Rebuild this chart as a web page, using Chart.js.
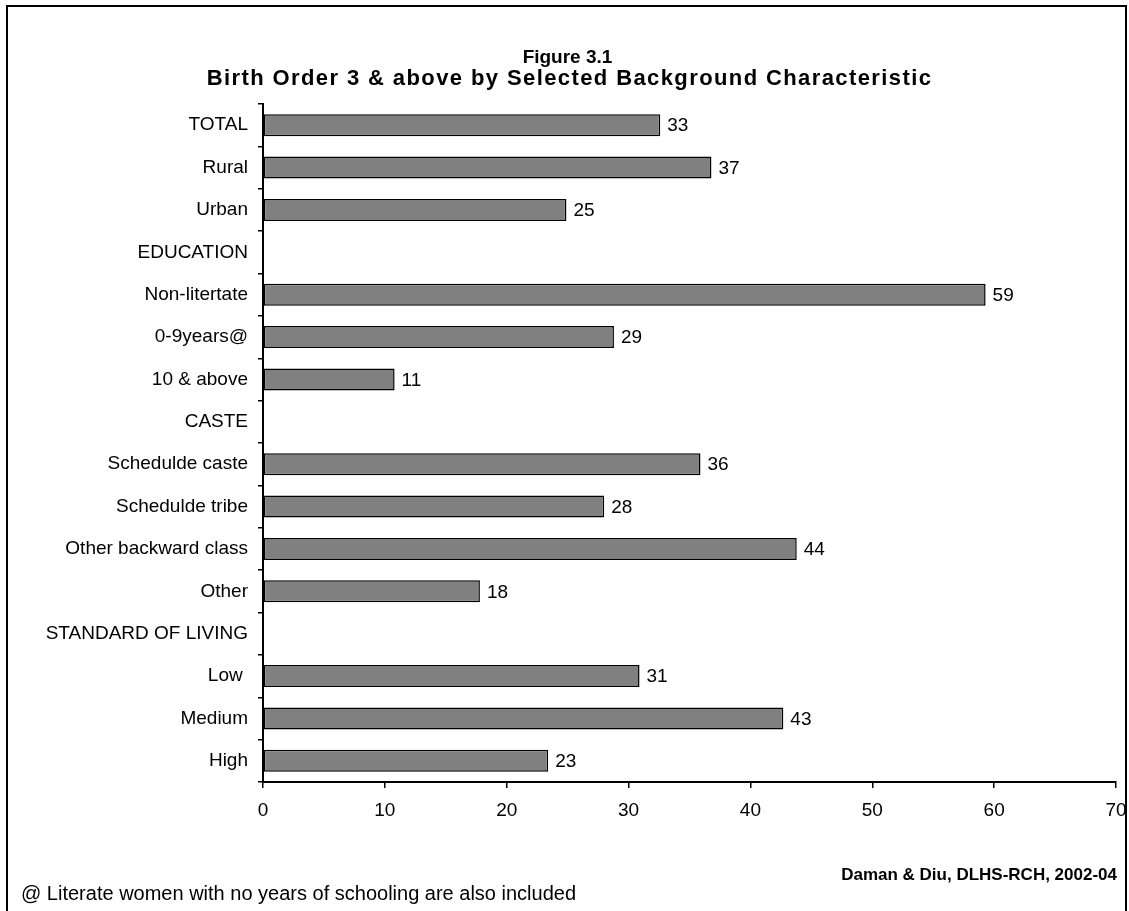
<!DOCTYPE html>
<html>
<head>
<meta charset="utf-8">
<title>Figure 3.1 – Birth Order 3 & above</title>
<script src="https://cdn.jsdelivr.net/npm/chart.js@4/dist/chart.umd.min.js"></script>
<style>
  html, body { margin: 0; padding: 0; background: #fff; }
  #wrap {
    position: relative; width: 1129px; height: 911px; overflow: hidden;
    font-family: "Liberation Sans", Arial, sans-serif; color: #000;
  }
  #frame {
    position: absolute; left: 6px; top: 5px; width: 1121px; height: 930px;
    border: 2px solid #000; box-sizing: border-box;
  }
  #chart { position: absolute; left: 0; top: 0; }
  .line { position: absolute; white-space: pre; line-height: 1; }
  .title { left: 0; width: 1129px; text-align: center; font-weight: bold; }
  #t1 { top: 47px; left: 3px; font-size: 19px; }
  #t2 { top: 67px; left: 5px; font-size: 22px; letter-spacing: 1.4px; }
  #note { left: 21px; top: 883px; font-size: 20px; }
  #source { right: 12px; top: 866px; font-size: 17px; font-weight: bold; }
</style>
</head>
<body>
<div id="wrap">
  <div id="frame"></div>
  <canvas id="chart" width="1129" height="911"></canvas>
  <div class="line title" id="t1">Figure 3.1</div>
  <div class="line title" id="t2">Birth Order 3 &amp; above by Selected Background Characteristic</div>
  <div class="line" id="note">@ Literate women with no years of schooling are also included</div>
  <div class="line" id="source">Daman &amp; Diu, DLHS-RCH, 2002-04</div>
</div>
<script>
// Row labels, top to bottom (group headings carry no bar)
const categories = [
  'TOTAL', 'Rural', 'Urban',
  'EDUCATION', 'Non-litertate', '0-9years@', '10 & above',
  'CASTE', 'Schedulde caste', 'Schedulde tribe', 'Other backward class', 'Other',
  'STANDARD OF LIVING', 'Low ', 'Medium', 'High'
];

// Percentage of births of order 3 and above
const percentBirthOrder3Plus = [
  32.6, 36.8, 24.9,
  null, 59.3, 28.8, 10.8,
  null, 35.9, 28.0, 43.8, 17.8,
  null, 30.9, 42.7, 23.4
];

// Value axis ticks
const xTicks = [0, 10, 20, 30, 40, 50, 60, 70];

const FONT = '"Liberation Sans", Arial, sans-serif';

// Writes each bar's rounded value just past its end
const valueLabels = {
  id: 'valueLabels',
  afterDatasetsDraw(chart) {
    const ctx = chart.ctx;
    const meta = chart.getDatasetMeta(0);
    ctx.save();
    ctx.font = '19px ' + FONT;
    ctx.fillStyle = '#000';
    ctx.textAlign = 'left';
    ctx.textBaseline = 'middle';
    meta.data.forEach((bar, i) => {
      const v = percentBirthOrder3Plus[i];
      if (v === null || v === undefined) return;
      ctx.fillText(String(Math.round(v)), bar.x + 7, bar.y + 1);
    });
    ctx.restore();
  }
};

new Chart(document.getElementById('chart'), {
  type: 'bar',
  data: {
    labels: categories,
    datasets: [{
      data: percentBirthOrder3Plus,
      backgroundColor: '#808080',
      borderColor: '#000',
      borderWidth: 1.5,
      borderSkipped: false,
      barPercentage: 0.52,
      categoryPercentage: 1
    }]
  },
  options: {
    indexAxis: 'y',
    responsive: false,
    devicePixelRatio: 1,
    animation: false,
    layout: { padding: { left: 0, right: 13, top: 104, bottom: 79 } },
    plugins: {
      legend: { display: false },
      title: { display: false },
      tooltip: { enabled: false }
    },
    scales: {
      x: {
        type: 'linear',
        min: xTicks[0],
        max: xTicks[xTicks.length - 1],
        afterBuildTicks(scale) { scale.ticks = xTicks.map(v => ({ value: v })); },
        afterFit(scale) {
          scale.height = 50;
          scale.paddingLeft = 0;
          scale.paddingRight = 0;
        },
        grid: { drawOnChartArea: false, drawTicks: true, tickLength: 6, color: '#000', lineWidth: 1.5 },
        border: { display: true, color: '#000', width: 2 },
        ticks: { color: '#000', font: { family: FONT, size: 19 }, padding: 11 }
      },
      y: {
        type: 'category',
        offset: true,
        afterFit(scale) {
          scale.width = 263;
          scale.paddingTop = 0;
          scale.paddingBottom = 0;
        },
        grid: { offset: true, drawOnChartArea: false, drawTicks: true, tickLength: 5, color: '#000', lineWidth: 1.5 },
        border: { display: true, color: '#000', width: 2 },
        ticks: { color: '#000', font: { family: FONT, size: 19 }, padding: 10, autoSkip: false }
      }
    }
  },
  plugins: [valueLabels]
});
</script>
</body>
</html>
